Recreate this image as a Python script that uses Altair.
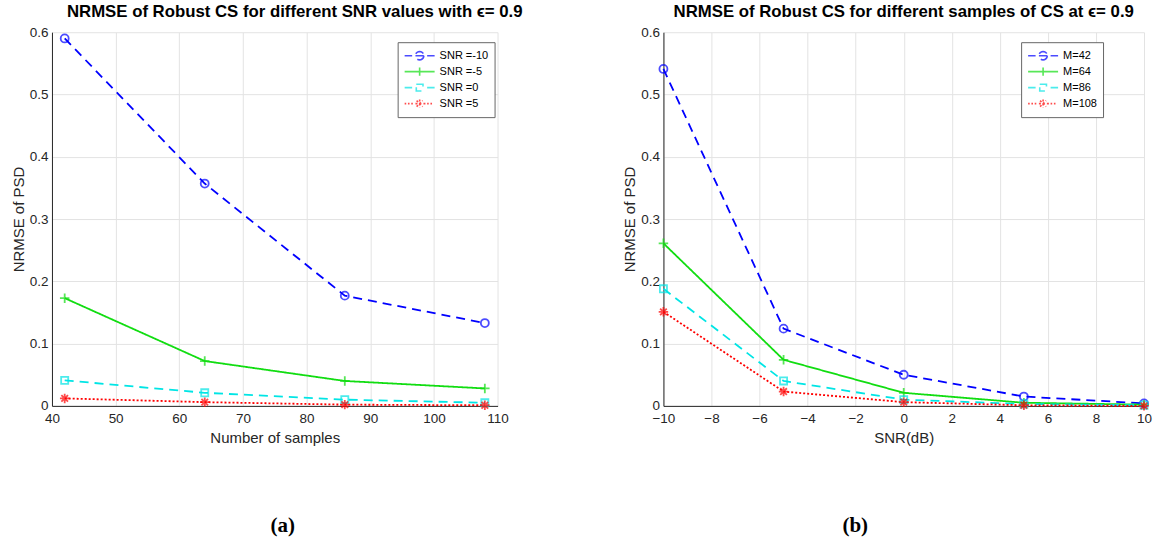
import math
import altair as alt
import pandas as pd

# ---------------- data ----------------
samples = [42, 64, 86, 108]
snr_labels = ["SNR =-10", "SNR =-5", "SNR =0", "SNR =5"]
snr_m10 = [0.590, 0.357, 0.177, 0.133]
snr_m5 = [0.173, 0.072, 0.040, 0.028]
snr_0 = [0.041, 0.021, 0.010, 0.005]
snr_5 = [0.012, 0.006, 0.002, 0.001]

snr_db = [-10, -5, 0, 5, 10]
m_labels = ["M=42", "M=64", "M=86", "M=108"]
m42 = [0.541, 0.124, 0.050, 0.015, 0.004]
m64 = [0.261, 0.074, 0.021, 0.005, 0.002]
m86 = [0.188, 0.040, 0.010, 0.003, 0.001]
m108 = [0.151, 0.023, 0.006, 0.001, 0.000]

captions = ["(a)", "(b)"]

# ---------------- styles ----------------
colors = ["#0000ff", "#11dd11", "#00e5e5", "#ff0000"]
dashes = [[9, 6], [1, 0], [9, 6], [2, 2]]
PLUS = "M-1,0L1,0M0,-1L0,1"
ASTER = "M-1,0L1,0M0,-1L0,1M-0.7,-0.7L0.7,0.7M-0.7,0.7L0.7,-0.7"
marker_defs = [("circle", 64), (PLUS, 90), ("square", 50), (ASTER, 90)]

# legend glyphs (line sample + marker), in symbol units
SYM = 169                      # legend symbol size -> unit = sqrt(SYM)/2 px
U = math.sqrt(SYM) / 2
GLYPH_W = 30                   # glyph length in px
X0 = -1.0
X1 = X0 + GLYPH_W / U
C = X0 + GLYPH_W / 2 / U
RM = 4.2 / U                   # marker half size
GAP = 7.5 / U                  # half gap of dashed line around marker


def seg(a, b):
    return f"M{a:.3f},0L{b:.3f},0"


def dotted(a, b, s=1.6, step=3.3):
    s, step = s / U, step / U
    out, x = "", a
    while x + s <= b + 1e-9:
        out += seg(x, x + s)
        x += step
    return out


def circle_path(cx, rr, n=20):
    pts = [(cx + rr * math.cos(2 * math.pi * k / n), rr * math.sin(2 * math.pi * k / n)) for k in range(n)]
    return "M" + "L".join(f"{px:.3f},{py:.3f}" for px, py in pts) + "Z"


sq = RM * 0.8
ast = RM * 0.72
glyphs = [
    seg(X0, C - GAP) + seg(C + GAP, X1) + circle_path(C, RM) + seg(C - RM, C + RM),
    seg(X0, X1) + f"M{C:.3f},{-RM:.3f}L{C:.3f},{RM:.3f}",
    seg(X0, C - GAP) + seg(C + GAP, X1)
    + f"M{C - sq:.3f},{-sq:.3f}L{C + sq:.3f},{-sq:.3f}L{C + sq:.3f},{sq:.3f}L{C - sq:.3f},{sq:.3f}Z",
    dotted(X0, C - RM) + dotted(C + RM, X1)
    + seg(C - RM, C + RM) + f"M{C:.3f},{-RM:.3f}L{C:.3f},{RM:.3f}"
    + f"M{C - ast:.3f},{-ast:.3f}L{C + ast:.3f},{ast:.3f}M{C - ast:.3f},{ast:.3f}L{C + ast:.3f},{-ast:.3f}",
]
LABEL_OFFSET = (GLYPH_W - 2 * U) + 4

FONT = "Liberation Sans"
HEIGHT = 374


def make_panel(xs, names, series, xtitle, xdomain, xvalues, title, width, legend_x, caption, cap_x, title_dx):
    rows = []
    for name, vals in zip(names, series):
        for xv, yv in zip(xs, vals):
            rows.append({"x": xv, "y": yv, "series": name})
    df = pd.DataFrame(rows)

    xenc = alt.X("x:Q", scale=alt.Scale(domain=xdomain, nice=False, zero=False),
                 axis=alt.Axis(values=xvalues, title=xtitle, format="d", labelFlush=False))
    yenc = alt.Y("y:Q", scale=alt.Scale(domain=[0, 0.6], nice=False),
                 axis=alt.Axis(values=[0, 0.1, 0.2, 0.3, 0.4, 0.5, 0.6], title="NRMSE of PSD",
                               labelExpr="datum.value == 0 ? '0' : format(datum.value, '.1f')"))
    color_scale = alt.Scale(domain=names, range=colors)

    leg = alt.Legend(
        title=None, orient="none", legendX=legend_x, legendY=10,
        symbolSize=SYM, symbolStrokeWidth=1.6, labelFont=FONT, labelFontSize=11,
        labelColor="#000000", strokeColor="#666666", fillColor="white", padding=6,
        rowPadding=1, labelOffset=LABEL_OFFSET,
    )
    legend_layer = alt.Chart(df).transform_filter("false").mark_point(filled=False).encode(
        x=xenc, y=yenc,
        color=alt.Color("series:N", scale=color_scale, legend=leg),
        shape=alt.Shape("series:N", scale=alt.Scale(domain=names, range=glyphs), legend=leg),
    )
    layers = [legend_layer]

    lines = alt.Chart(df).mark_line(strokeWidth=1.8).encode(
        x=xenc, y=yenc,
        color=alt.Color("series:N", scale=color_scale),
        strokeDash=alt.StrokeDash("series:N", scale=alt.Scale(domain=names, range=dashes), legend=None),
        detail="series:N",
    )
    layers.append(lines)
    for name, (shape, size) in zip(names, marker_defs):
        pts = alt.Chart(df).transform_filter(alt.datum.series == name).mark_point(
            shape=shape, size=size, filled=False, strokeWidth=1.8
        ).encode(x=xenc, y=yenc, color=alt.Color("series:N", scale=color_scale))
        layers.append(pts)

    cap = alt.Chart(pd.DataFrame({"cap": [caption]})).mark_text(
        font="Liberation Serif", fontSize=21, fontWeight="bold", color="black"
    ).encode(text="cap:N", x=alt.value(cap_x), y=alt.value(HEIGHT + 120))
    layers.append(cap)

    return alt.layer(*layers).properties(
        width=width, height=HEIGHT,
        title=alt.TitleParams(title, font=FONT, fontSize=16.8, fontWeight="bold", color="black",
                              offset=4, dx=title_dx),
    )


left = make_panel(samples, snr_labels, [snr_m10, snr_m5, snr_0, snr_5],
                  "Number of samples", [40, 110], list(range(40, 111, 10)),
                  "NRMSE of Robust CS for different SNR values with \u03f5=  0.9",
                  446, 346, captions[0], 231, 20)
right = make_panel(snr_db, m_labels, [m42, m64, m86, m108],
                   "SNR(dB)", [-10, 10], list(range(-10, 11, 2)),
                   "NRMSE of Robust CS for different samples of CS at \u03f5=  0.9",
                   481, 358, captions[1], 192, 0)

chart = alt.hconcat(left, right, spacing=97).resolve_scale(
    color="independent", shape="independent", strokeDash="independent"
).properties(
    padding={"left": 11, "top": 4, "right": 2, "bottom": 2}
).configure_view(stroke=None).configure_axis(
    labelFont=FONT, labelFontSize=13.5, labelColor="#262626",
    titleFont=FONT, titleFontSize=15, titleFontWeight="normal", titleColor="#262626",
    domainColor="#262626", domainWidth=1, gridColor="#e3e3e3", gridWidth=1, ticks=False,
).configure_axisY(titlePadding=3, labelPadding=4).configure_axisX(titlePadding=5, labelPadding=6)

chart.save("out.html", embed_options={"renderer": "svg", "actions": False})
